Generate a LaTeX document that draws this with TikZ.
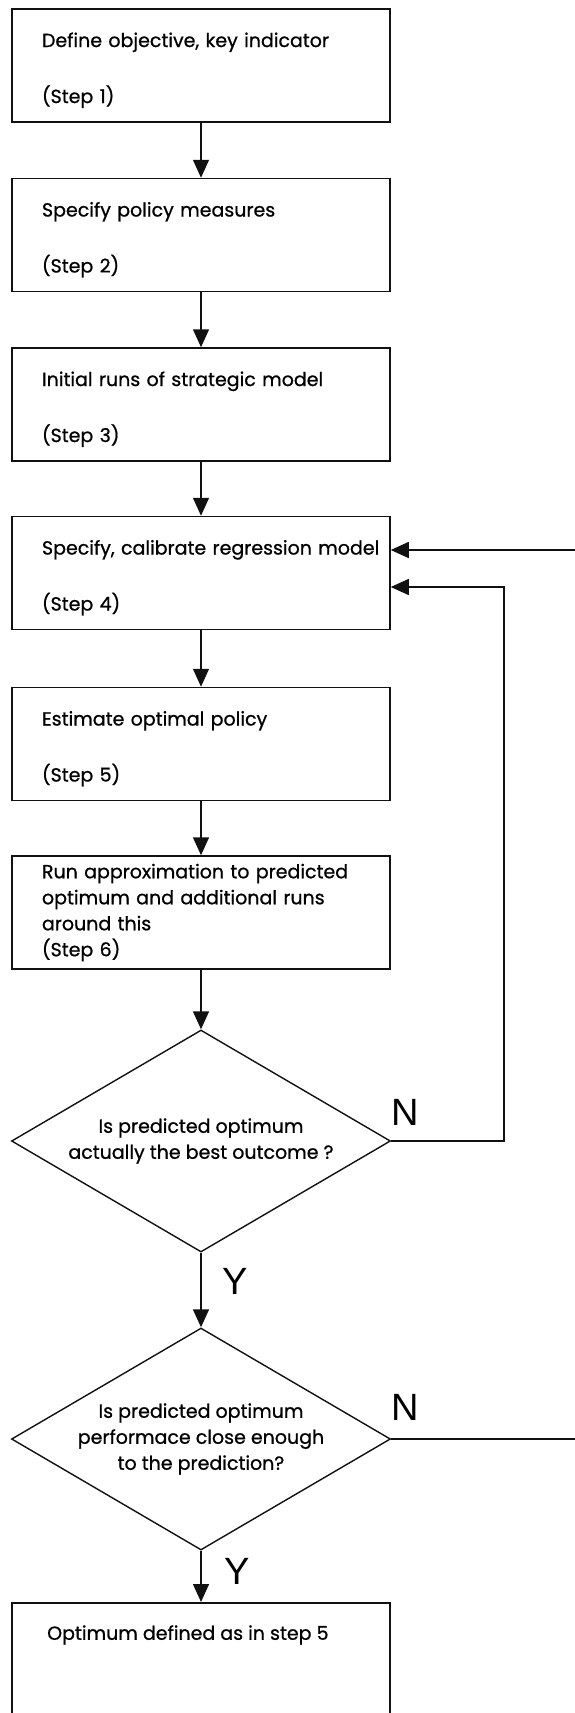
\documentclass[tikz,border=0pt]{standalone}
\usepackage{fontspec}
\setmainfont{Poppins}[FakeBold=0.8]
\newfontfamily\ynfont{Liberation Sans}
\usetikzlibrary{shapes.geometric,arrows.meta}
\definecolor{FlowInk}{HTML}{111111}

\begin{document}
\begin{tikzpicture}[x=1pt,y=-1pt,
  stepbox/.style={draw=FlowInk,line width=1.5pt,minimum width=378pt,minimum height=113pt,
    inner xsep=30pt,inner ysep=0pt,text width=318pt,align=left,font=\fontsize{19}{23}\selectfont},
  pairbox/.style={stepbox,execute at begin node={\rule{0pt}{24pt}}},
  testbox/.style={draw=FlowInk,line width=1.4pt,diamond,aspect=1.7,minimum width=379pt,minimum height=222pt,
    inner sep=0pt,align=center,font=\fontsize{19}{26}\selectfont},
  flow/.style={draw=FlowInk,line width=1.5pt,-{Triangle[length=18pt,width=16pt]}},
  plain/.style={draw=FlowInk,line width=1.5pt},
  yn/.style={font=\ynfont\fontsize{38}{38}\selectfont,inner sep=0pt}]
\path[use as bounding box] (0,0) rectangle (575,1713);
\clip (0,0) rectangle (575,1713);
\node[pairbox] (s1) at (201,65.5) {Define objective, key indicator\\[33pt](Step 1)};
\node[pairbox] (s2) at (201,235) {Specify policy measures\\[33pt](Step 2)};
\node[pairbox] (s3) at (201,404.5) {Initial runs of strategic model\\[33pt](Step 3)};
\node[pairbox] (s4) at (201,573) {\mbox{Specify, calibrate regression model}\\[33pt](Step 4)};
\node[pairbox] (s5) at (201,744) {Estimate optimal policy\\[33pt](Step 5)};
\node[stepbox,font=\fontsize{19}{26}\selectfont] (s6) at (201,912.5) {Run approximation to predicted\\optimum and additional runs\\around this\\(Step 6)};
\node[testbox] (d1) at (201,1141) {Is predicted optimum\\actually the best outcome ?};
\node[testbox] (d2) at (201,1439) {Is predicted optimum\\performace close enough\\to the prediction?};
\node[stepbox,anchor=north,minimum height=150pt] (s7) at (201,1602) {};
\node[anchor=west,inner sep=0pt,font=\fontsize{19}{23}\selectfont] (s7text) at (47,1635) {Optimum defined as in step 5};
\draw[flow] (s1) -- (s2);
\draw[flow] (s2) -- (s3);
\draw[flow] (s3) -- (s4);
\draw[flow] (s4) -- (s5);
\draw[flow] (s5) -- (s6);
\draw[flow] (s6) -- (d1);
\draw[flow] (d1) -- (d2);
\draw[flow] (d2) -- (s7);
\coordinate (loop1) at (504,587);
\coordinate (back2) at (575,550);
\coordinate (out2) at (575,1439);
\draw[flow] (d1.east) -| (loop1) -- (loop1 -| s4.east);
\draw[flow] (back2) -- (back2 -| s4.east);
\draw[plain] (d2.east) -- (out2);
\node[yn] (n1) at (405,1112) {N};
\node[yn] (y1) at (235,1281) {Y};
\node[yn] (n2) at (405,1407) {N};
\node[yn] (y2) at (237,1571) {Y};
\end{tikzpicture}
\end{document}
